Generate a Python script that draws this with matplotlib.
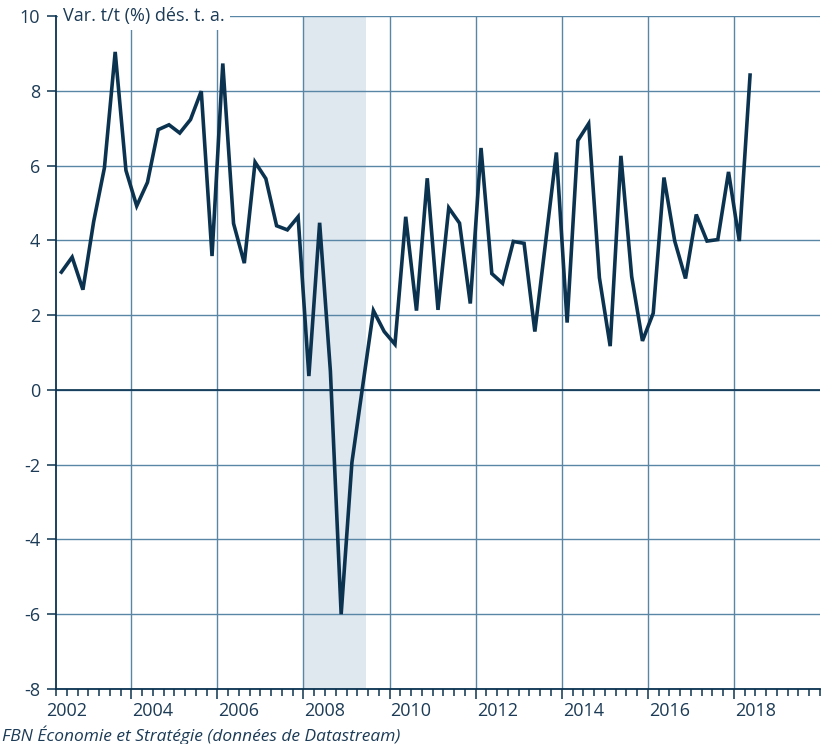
import numpy as np
import pandas as pd
import matplotlib
matplotlib.use("Agg")
import matplotlib.pyplot as plt
from matplotlib.ticker import MultipleLocator

# quarterly data, 2002Q2 .. 2018Q2 (annualized q/q % change, s.a.)
quarters = pd.period_range("2002Q2", "2018Q2", freq="Q")
growth = [
    3.15, 3.55, 2.68, 4.50, 5.94, 9.04, 5.87, 4.92, 5.55, 6.96,
    7.09, 6.87, 7.23, 7.99, 3.58, 8.73, 4.45, 3.39, 6.09, 5.65,
    4.39, 4.28, 4.63, 0.37, 4.47, 0.50, -6.00, -1.94, 0.10, 2.12,
    1.56, 1.22, 4.63, 2.12, 5.66, 2.14, 4.87, 4.46, 2.31, 6.47,
    3.11, 2.85, 3.97, 3.92, 1.56, 3.95, 6.35, 1.80, 6.67, 7.12,
    3.00, 1.17, 6.26, 3.03, 1.31, 2.05, 5.68, 3.98, 2.98, 4.69,
    3.98, 4.02, 5.83, 3.98, 8.42,
]
recession = (2008.0, 2009.45)
year_labels = ["2002", "2004", "2006", "2008", "2010", "2012", "2014", "2016", "2018"]

# mid-quarter position as decimal year
xq = quarters.year + (quarters.quarter - 0.5) / 4.0

navy = "#0b3350"
grid_c = "#5a86a6"
text_c = "#1c3b56"
shade_c = "#dfe7ef"

plt.rcParams["font.family"] = ["Open Sans", "DejaVu Sans"]
plt.rcParams["font.size"] = 13
plt.rcParams["axes.unicode_minus"] = False

fig = plt.figure(figsize=(8.33, 7.44), dpi=100)
ax = fig.add_axes([56 / 833, 1 - 689 / 744, (820 - 56) / 833, (689 - 16) / 744])

ax.axvspan(*recession, color=shade_c, zorder=0, lw=0)
ax.plot(xq, growth, color=navy, lw=2.6, zorder=3, solid_joinstyle="miter")
ax.axhline(0, color=navy, lw=1.2, zorder=1)

ax.set_xlim(2002.25, 2020)
ax.set_ylim(-8, 10)

ax.set_yticks(np.arange(-8, 11, 2))
ax.set_xticks(np.arange(2004, 2019, 2))
ax.set_xticklabels([])
ax.xaxis.set_minor_locator(MultipleLocator(0.25))

ax.set_axisbelow(True)
ax.grid(True, which="major", color=grid_c, lw=1.0)

for s in ["top", "right"]:
    ax.spines[s].set_visible(False)
for s in ["left", "bottom"]:
    ax.spines[s].set_color(navy)
    ax.spines[s].set_linewidth(1.3)

ax.tick_params(axis="y", colors=navy, labelcolor=text_c, length=6.5, width=1.1, pad=5, labelsize=13)
ax.tick_params(axis="x", which="major", colors=navy, length=7, width=1.1)
ax.tick_params(axis="x", which="minor", colors=navy, length=4.8, width=1.1)

# year labels centred in each year
sec = ax.secondary_xaxis("bottom")
sec.set_xticks([int(y) + 0.5 for y in year_labels], year_labels)
sec.tick_params(length=0, pad=9, labelcolor=text_c, labelsize=13)
sec.spines["bottom"].set_visible(False)

ax.text(0.009, 1.0, "Var. t/t (%) dés. t. a.", transform=ax.transAxes,
        ha="left", va="center", color=text_c, fontsize=13, zorder=4,
        bbox=dict(fc="white", ec="none", pad=3.5))

fig.text(2 / 833, 1 - 735 / 744, "FBN Économie et Stratégie (données de Datastream)",
         ha="left", va="center", style="italic", color=text_c, fontsize=12.5)

fig.savefig("out.png", dpi=100)
